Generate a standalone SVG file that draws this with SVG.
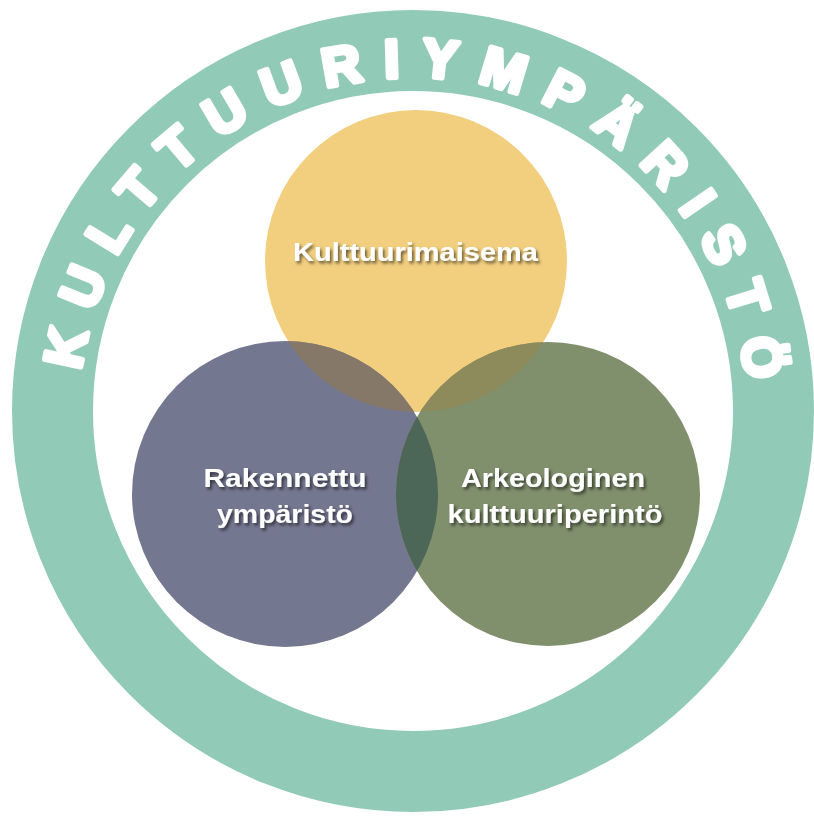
<svg xmlns="http://www.w3.org/2000/svg" xmlns:xlink="http://www.w3.org/1999/xlink" width="814" height="816" viewBox="0 0 814 816">
  <style>
    .ring { fill: none; stroke: #92CAB8; stroke-width: 81; }
    .ringtext { font-family: "Liberation Sans", Arial, sans-serif; font-weight: bold; font-size: 54px; fill: #ffffff; stroke: #ffffff; stroke-width: 5; stroke-linejoin: round; letter-spacing: 20.7px; }
    .label { font-family: "Liberation Sans", Arial, sans-serif; font-weight: bold; font-size: 26px; fill: #ffffff; text-anchor: middle; filter: url(#shadow); }
  </style>
  <defs>
    <filter id="shadow" x="-10%" y="-30%" width="120%" height="170%">
      <feDropShadow dx="2" dy="2.5" stdDeviation="1.6" flood-color="#000000" flood-opacity="0.55"/>
    </filter>
    <clipPath id="clipYellow"><circle cx="416" cy="261" r="151"/></clipPath>
    <clipPath id="clipSlate"><circle cx="285" cy="494" r="153"/></clipPath>
    <path id="arc" d="M 79,411 A 334 334 0 0 1 747,411"/>
  </defs>
  <rect width="814" height="816" fill="#ffffff"/>

  <g id="ring">
    <circle class="ring" cx="413" cy="411" r="360.5"/>
    <text class="ringtext"><textPath xlink:href="#arc" href="#arc" startOffset="539.7" text-anchor="middle">KULTTUURIYMPÄRISTÖ</textPath></text>
  </g>

  <g id="kulttuurimaisema">
    <circle cx="416" cy="261" r="151" fill="#F2CF7F"/>
  </g>
  <g id="rakennettu-ymparisto">
    <circle cx="285" cy="494" r="153" fill="#747790"/>
  </g>
  <g id="arkeologinen-kulttuuriperinto">
    <circle cx="548" cy="494" r="152" fill="#808F6C"/>
  </g>

  <g id="overlaps">
    <circle cx="285" cy="494" r="153" fill="#857868" clip-path="url(#clipYellow)"/>
    <circle cx="548" cy="494" r="152" fill="#8D8A5C" clip-path="url(#clipYellow)"/>
    <circle cx="548" cy="494" r="152" fill="#4C6657" clip-path="url(#clipSlate)"/>
    <g clip-path="url(#clipYellow)">
      <circle cx="548" cy="494" r="152" fill="#55594A" clip-path="url(#clipSlate)"/>
    </g>
  </g>

  <g id="labels">
    <text class="label" x="415.5" y="261" textLength="245" lengthAdjust="spacingAndGlyphs">Kulttuurimaisema</text>
    <text class="label" x="285" y="486.5" textLength="163" lengthAdjust="spacingAndGlyphs">Rakennettu</text>
    <text class="label" x="285" y="523" textLength="136" lengthAdjust="spacingAndGlyphs">ympäristö</text>
    <text class="label" x="553" y="486.5" textLength="184" lengthAdjust="spacingAndGlyphs">Arkeologinen</text>
    <text class="label" x="555" y="523" textLength="215" lengthAdjust="spacingAndGlyphs">kulttuuriperintö</text>
  </g>
</svg>
